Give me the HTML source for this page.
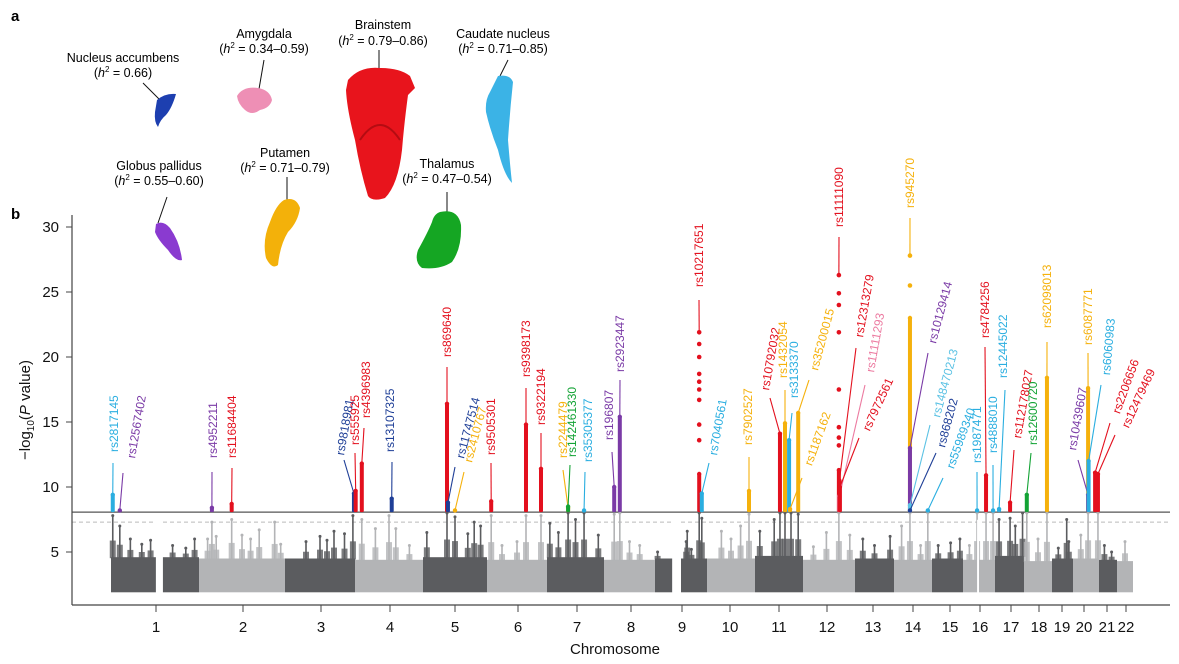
<!DOCTYPE html>
<html><head><meta charset="utf-8">
<style>
html,body{margin:0;padding:0;background:#fff;}
svg{display:block;font-family:"Liberation Sans",Arial,sans-serif;}
</style></head>
<body>
<svg id="fig" width="1179" height="664" viewBox="0 0 1179 664" xmlns="http://www.w3.org/2000/svg">
  <g id="panelA">
    <text x="11" y="21" font-size="15" font-weight="bold">a</text>

    <g>
      <text x="123" y="62" font-size="12.5" text-anchor="middle">Nucleus accumbens</text>
      <text x="123" y="77" font-size="12.5" text-anchor="middle">(<tspan font-style="italic">h</tspan><tspan font-size="8" dy="-5">2</tspan><tspan dy="5"> = 0.66)</tspan></text>
      <line x1="143" y1="83" x2="160" y2="100" stroke="#111" stroke-width="1"/>
      <path d="M157 100 Q165 93 176 94 Q172 108 166 115 Q160 120 158 127 Q154 122 155 112 Z" fill="#1d3fb0"/>
    </g>
    <g>
      <text x="264" y="38" font-size="12.5" text-anchor="middle">Amygdala</text>
      <text x="264" y="53" font-size="12.5" text-anchor="middle">(<tspan font-style="italic">h</tspan><tspan font-size="8" dy="-5">2</tspan><tspan dy="5"> = 0.34–0.59)</tspan></text>
      <line x1="264" y1="60" x2="259" y2="89" stroke="#111" stroke-width="1"/>
      <path d="M237 96 Q243 86 258 88 Q270 90 272 100 Q270 108 260 110 Q252 116 245 110 Q238 104 237 96 Z" fill="#ee8fb5"/>
    </g>
    <g>
      <text x="383" y="29" font-size="12.5" text-anchor="middle">Brainstem</text>
      <text x="383" y="45" font-size="12.5" text-anchor="middle">(<tspan font-style="italic">h</tspan><tspan font-size="8" dy="-5">2</tspan><tspan dy="5"> = 0.79–0.86)</tspan></text>
      <line x1="379" y1="50" x2="379" y2="70" stroke="#111" stroke-width="1"/>
      <path d="M348 80 Q360 66 380 68 Q400 68 410 76 L415 88 L408 95 Q404 125 402 150 Q398 185 385 198 Q372 202 368 196 Q360 170 355 140 Q347 110 346 90 Z" fill="#e8141c"/>
      <path d="M360 140 Q380 110 400 140" fill="none" stroke="#b40c12" stroke-width="2"/>
    </g>
    <g>
      <text x="503" y="38" font-size="12.5" text-anchor="middle">Caudate nucleus</text>
      <text x="503" y="53" font-size="12.5" text-anchor="middle">(<tspan font-style="italic">h</tspan><tspan font-size="8" dy="-5">2</tspan><tspan dy="5"> = 0.71–0.85)</tspan></text>
      <line x1="508" y1="60" x2="500" y2="76" stroke="#111" stroke-width="1"/>
      <path d="M498 76 Q510 74 513 82 Q510 110 508 140 Q510 165 512 183 Q504 175 498 150 Q490 130 486 112 Q485 100 490 92 Z" fill="#3bb3e6"/>
    </g>
    <g>
      <text x="159" y="170" font-size="12.5" text-anchor="middle">Globus pallidus</text>
      <text x="159" y="185" font-size="12.5" text-anchor="middle">(<tspan font-style="italic">h</tspan><tspan font-size="8" dy="-5">2</tspan><tspan dy="5"> = 0.55–0.60)</tspan></text>
      <line x1="167" y1="197" x2="158" y2="223" stroke="#111" stroke-width="1"/>
      <path d="M156 224 Q163 220 170 228 Q180 242 182 260 Q176 262 168 250 Q158 240 155 232 Z" fill="#8a3ad0"/>
    </g>
    <g>
      <text x="285" y="157" font-size="12.5" text-anchor="middle">Putamen</text>
      <text x="285" y="172" font-size="12.5" text-anchor="middle">(<tspan font-style="italic">h</tspan><tspan font-size="8" dy="-5">2</tspan><tspan dy="5"> = 0.71–0.79)</tspan></text>
      <line x1="287" y1="177" x2="287" y2="200" stroke="#111" stroke-width="1"/>
      <path d="M284 200 Q296 196 300 208 Q298 222 288 232 Q280 245 278 265 Q272 270 266 258 Q262 240 270 222 Q276 205 284 200 Z" fill="#f3b10a"/>
    </g>
    <g>
      <text x="447" y="168" font-size="12.5" text-anchor="middle">Thalamus</text>
      <text x="447" y="183" font-size="12.5" text-anchor="middle">(<tspan font-style="italic">h</tspan><tspan font-size="8" dy="-5">2</tspan><tspan dy="5"> = 0.47–0.54)</tspan></text>
      <line x1="447" y1="192" x2="447" y2="212" stroke="#111" stroke-width="1"/>
      <path d="M440 212 Q458 208 461 225 Q462 248 452 262 Q440 270 422 268 Q414 262 418 250 Q428 232 432 222 Q434 214 440 212 Z" fill="#15a623"/>
    </g>
  </g>

  <text x="11" y="219" font-size="15" font-weight="bold">b</text>
  <g id="chart"></g>
</svg>
<script>
// ---- data ----
const chromosomes = ["1","2","3","4","5","6","7","8","9","10","11","12","13","14","15","16","17","18","19","20","21","22"];
const chromLengths = [88,86,70,68,64,60,57,51,52,48,48,52,39,38,31,32,29,28,21,26,18,16];
const yTicks = [5,10,15,20,25,30];
const thresholdSolid = 8.07;
const thresholdDashed = 7.3;
const floorValue = 1.9;
const baseTop = [4.6,4.5,4.5,4.4,4.6,4.4,4.6,4.4,4.5,4.5,4.7,4.4,4.5,4.4,4.5,4.4,4.7,4.3,4.5,4.5,4.4,4.3];
// background peaks: [chromIndex, fractionWithinChrom, value]
const peakChrom = [0,0,0,0,0,0,0,0, 1,1,1,1,1,1,1,1,1, 2,2,2,2,2,2, 3,3,3,3,3, 4,4,4,4,4,4, 5,5,5,5,5, 6,6,6,6,6,6, 7,7,7,7, 8,8,8,8,8,8, 9,9,9,9, 10,10,10,10,10,10, 11,11,11,11, 12,12,12, 13,13,13,13, 14,14,14, 15,15,15,15, 16,16,16,16, 17,17,17, 18,18,18, 19,19,19, 20,20, 21];
const peakFrac  = [0.02,0.1,0.22,0.35,0.45,0.7,0.85,0.95, 0.1,0.15,0.2,0.38,0.5,0.6,0.7,0.88,0.95, 0.3,0.5,0.7,0.85,0.97,0.6, 0.1,0.3,0.5,0.6,0.8, 0.06,0.375,0.5,0.7,0.8,0.9, 0.07,0.25,0.5,0.65,0.9, 0.05,0.2,0.37,0.5,0.65,0.9, 0.2,0.31,0.5,0.7, 0.05,0.6,0.62,0.7,0.85,0.9, 0.3,0.5,0.7,0.875, 0.1,0.4,0.52,0.625,0.75,0.9, 0.2,0.45,0.69,0.9, 0.2,0.5,0.9, 0.2,0.42,0.89,0.7, 0.2,0.6,0.9, 0.2,0.44,0.72,0.94, 0.14,0.52,0.7,0.95, 0.1,0.5,0.82, 0.3,0.7,0.8, 0.3,0.58,0.96, 0.3,0.7, 0.5];
const peakValue = [7.8,7.0,6.0,5.6,5.9,5.5,5.3,6.0, 6.0,7.3,6.2,7.5,6.3,6.0,6.7,7.3,5.6, 5.8,6.2,6.6,6.4,7.8,5.9, 7.5,6.8,7.8,6.8,5.5, 6.5,8.0,7.7,6.4,7.3,7.0, 7.8,5.5,5.8,7.8,7.8, 7.2,6.5,8.0,7.5,8.0,6.3, 7.9,8.0,5.8,5.5, 5.0,5.8,6.6,5.2,8.0,7.6, 6.6,6.0,7.0,7.9, 6.6,7.5,8.0,8.0,8.0,7.9, 5.4,6.5,8.0,6.3, 6.0,5.5,6.2, 7.0,8.0,8.0,5.5, 5.5,5.7,6.0, 5.5,8.0,8.0,8.0, 7.5,7.6,7.0,8.0, 8.0,6.0,8.0, 5.3,7.5,5.8, 6.3,8.0,8.0, 5.5,5.0, 5.8];
// gaps (centromere/no data) [chromIndex, fracStart, fracEnd]
const gapChrom = [0,8,15];
const gapFrom = [0.51,0.33,0.44];
const gapTo = [0.59,0.5,0.5];

// significant hits
const hitNames = ["rs2817145","rs12567402","rs4952211","rs11684404","rs9818981","rs555925","rs4396983","rs13107325","rs869640","rs11747514","rs2410767","rs9505301","rs9398173","rs9322194","rs2244479","rs142461330","rs35305377","rs196807","rs2923447","rs10217651","rs7040561","rs7902527","rs10792032","rs1432054","rs3133370","rs1187162","rs35200015","rs11111090","rs12313279","rs11111293","rs7972561","rs945270","rs10129414","rs148470213","rs868202","rs55989340","rs1987471","rs4784256","rs4888010","rs12445022","rs112178027","rs12600720","rs62098013","rs6087771","rs10439607","rs6060983","rs2206656","rs12479469"];
const hitChrom = [0,0,1,1,2,3,3,3,4,4,4,5,5,5,6,6,6,7,7,8,8,9,10,10,10,10,10,11,11,11,11,13,13,13,13,13,15,15,15,16,16,17,17,19,19,19,19,19];
const hitFrac  = [0.02,0.1,0.15,0.38,0.985,0.01,0.1,0.54,0.375,0.39,0.5,0.07,0.65,0.9,0.37,0.37,0.65,0.2,0.31,0.85,0.9,0.875,0.52,0.625,0.71,0.73,0.9,0.69,0.7,0.7,0.71,0.42,0.42,0.42,0.42,0.89,0.44,0.72,0.94,0.14,0.52,0.1,0.82,0.58,0.58,0.6,0.85,0.96];
const hitValue = [9.4,8.2,8.4,8.7,9.5,9.7,11.8,9.1,16.4,8.8,8.2,8.9,14.8,11.4,8.4,8.5,8.2,10.0,15.4,21.9,9.5,9.7,14.1,14.9,13.6,8.3,15.7,26.3,10.5,9.3,10.0,27.8,13.0,8.6,8.2,8.2,8.2,10.9,8.2,8.3,8.8,9.4,18.4,17.6,9.4,12.0,11.1,11.0];
const hitDenseTop = [9.4,8.2,8.4,8.7,9.5,9.7,11.8,9.1,16.4,8.8,8.2,8.9,14.8,11.4,8.4,8.5,8.2,10.0,15.4,11.0,9.5,9.7,14.1,14.9,13.6,8.3,15.7,11.3,10.5,9.3,10.0,23.0,13.0,8.6,8.2,8.2,8.2,10.9,8.2,8.3,8.8,9.4,18.4,17.6,9.4,12.0,11.1,11.0];
const hitColor = ["#2aaee0","#7a3aa6","#7a3aa6","#e3101e","#1f3f97","#e3101e","#e3101e","#1f3f97","#e3101e","#1f3f97","#f5b10c","#e3101e","#e3101e","#e3101e","#f5b10c","#13a335","#2aaee0","#7a3aa6","#7a3aa6","#e3101e","#2aaee0","#f5b10c","#e3101e","#f5b10c","#2aaee0","#f5b10c","#f5b10c","#e3101e","#e3101e","#ec7aa0","#e3101e","#f5b10c","#7a3aa6","#5bc2e4","#1f3f97","#2aaee0","#2aaee0","#e3101e","#2aaee0","#2aaee0","#e3101e","#13a335","#f5b10c","#f5b10c","#7a3aa6","#2aaee0","#e3101e","#e3101e"];
// extra sparse dots above dense columns [hitIndex, value]
const extraHit = [19,19,19,19,19,19,19,19,19, 27,27,27,27,27,27,27,27, 31,31];
const extraVal = [13.6,14.8,16.7,17.5,18.1,18.7,20.0,21.0,21.9, 13.2,13.8,14.6,17.5,21.9,24.0,24.9,26.3, 25.5,27.8];

// x tick labels positions (layout only)
const xTickPx = [156,243,321,390,455,518,577,631,682,730,779,827,873,913,950,980,1011,1039,1062,1084,1107,1126];
// label layout: line end x,y ; text anchor x,y ; angle (layout only)
const labLX=[113,123,212,232,344,355,364,392,447,455,464,491,526,541,563,570,585,612,620,699,709,749,770,785,792,802,809,839,856,865,859,910,928,930,936,943,977,985,993,1005,1014,1031,1047,1088,1078,1101,1110,1115];
const labLY=[463,473,472,468,460,453,428,462,367,467,472,463,388,433,470,465,472,452,380,300,463,457,398,390,413,478,380,237,348,385,438,218,353,425,453,478,472,347,465,390,450,453,342,353,460,385,423,435];
const labTX=[114,131,213,232,340,355,366,390,447,460,468,491,526,541,563,572,588,609,620,699,713,748,765,783,794,808,814,839,859,870,866,910,932,936,941,950,977,985,993,1003,1017,1033,1047,1088,1072,1106,1116,1125];
const labTY=[452,458,458,458,455,445,418,452,357,458,462,455,377,425,458,457,462,440,372,287,455,445,390,378,398,465,370,227,337,372,430,208,343,417,447,468,463,338,453,378,438,445,328,345,450,375,413,427];
const labAng=[-90,-80,-90,-90,-80,-90,-90,-90,-90,-75,-75,-90,-90,-90,-90,-90,-90,-90,-90,-90,-80,-90,-80,-90,-90,-70,-75,-90,-80,-80,-65,-90,-75,-75,-75,-70,-90,-90,-90,-90,-80,-90,-90,-90,-80,-85,-70,-65];

// ---- scales ----
const NS="http://www.w3.org/2000/svg";
const chart=document.getElementById('chart');
const X0=111, Y0=617, YS=13, AXL=72, AXR=1170, AXB=605;
const chromStart=[]; {let c=0; for(const L of chromLengths){chromStart.push(c); c+=L;}}
function xPos(ci,f){return X0+chromStart[ci]+f*chromLengths[ci];}
function yPos(v){return Y0-YS*v;}
function el(tag,attrs,parent){const e=document.createElementNS(NS,tag);for(const k in attrs)e.setAttribute(k,attrs[k]);(parent||chart).appendChild(e);return e;}

// thresholds
const ts=el('line',{x1:AXL,x2:AXR,y1:yPos(thresholdSolid),y2:yPos(thresholdSolid),stroke:'#555',"stroke-width":1.2});


const td=el('line',{x1:AXL,x2:AXR,y1:yPos(thresholdDashed),y2:yPos(thresholdDashed),stroke:'#bbb',"stroke-width":1,"stroke-dasharray":"4 3"});



// background chromosomes
const bg=el('g',{});


chromosomes.forEach((c,i)=>{
  const col = i%2===0 ? '#5b5c5f' : '#b3b4b6';
  const g=el('g',{},bg);
  
  
  const xs=xPos(i,0), xe=xPos(i,1);
  el('rect',{x:xs,y:yPos(baseTop[i]),width:xe-xs,height:yPos(floorValue)-yPos(baseTop[i]),fill:col},g);
  for(let k=0;k<peakChrom.length;k++){
    if(peakChrom[k]!==i) continue;
    const px=xPos(i,peakFrac[k]);
    const v=peakValue[k];
    const mid=baseTop[i]+(v-baseTop[i])*0.4;
    el('rect',{x:px-0.8,y:yPos(v),width:1.6,height:yPos(baseTop[i])-yPos(v)+1,fill:col},g);
    el('rect',{x:px-3,y:yPos(mid),width:6,height:yPos(baseTop[i])-yPos(mid)+1,fill:col,opacity:0.8},g);
    el('circle',{cx:px,cy:yPos(v),r:1.5,fill:col},g);
  }
  for(let k=0;k<gapChrom.length;k++){
    if(gapChrom[k]!==i) continue;
    el('rect',{x:xPos(i,gapFrom[k]),y:yPos(baseTop[i])-40,width:xPos(i,gapTo[k])-xPos(i,gapFrom[k]),height:yPos(floorValue)-yPos(baseTop[i])+41,fill:'#fff'},g);
  }
});

// hits
hitNames.forEach((n,i)=>{
  const g=el('g',{});
  
  
  const x=xPos(hitChrom[i],hitFrac[i]);
  const c=hitColor[i];
  const yb=yPos(thresholdSolid), yt=yPos(hitDenseTop[i]);
  if(yb-yt>1) el('rect',{x:x-2,y:yt,width:4,height:yb-yt,fill:c,rx:1.5},g);
  el('circle',{cx:x,cy:yt,r:2.2,fill:c},g);
  const yTop=yPos(hitValue[i]);
  el('line',{x1:x,y1:yTop,x2:labLX[i],y2:labLY[i],stroke:c,"stroke-width":1.1},g);
  const t=el('text',{x:0,y:0,transform:`translate(${labTX[i]},${labTY[i]}) rotate(${labAng[i]})`,"font-size":12,fill:c,"dominant-baseline":"central"},g);
  t.textContent=n;
  
  
});
for(let k=0;k<extraHit.length;k++){
  const i=extraHit[k];
  const d=el('circle',{cx:xPos(hitChrom[i],hitFrac[i]),cy:yPos(extraVal[k]),r:2.3,fill:hitColor[i]});
  
  
}

// axes
const ax=el('g',{});


el('line',{x1:AXL,x2:AXL,y1:215,y2:AXB,stroke:'#444',"stroke-width":1.2},ax);
el('line',{x1:AXL,x2:AXR,y1:AXB,y2:AXB,stroke:'#444',"stroke-width":1.2},ax);
yTicks.forEach(v=>{
  el('line',{x1:66,x2:AXL,y1:yPos(v),y2:yPos(v),stroke:'#444'},ax);
  const t=el('text',{x:59,y:yPos(v)+5,"font-size":15,"text-anchor":"end",fill:'#111'},ax);
  t.textContent=v;
  
  
});
chromosomes.forEach((c,i)=>{
  el('line',{x1:xTickPx[i],x2:xTickPx[i],y1:AXB,y2:AXB+7,stroke:'#444'},ax);
  const t=el('text',{x:xTickPx[i],y:632,"font-size":15,"text-anchor":"middle",fill:'#111'},ax);
  t.textContent=c;
  
  
});
const xt=el('text',{x:615,y:654,"font-size":15,"text-anchor":"middle",fill:'#111'},ax);
xt.textContent='Chromosome';


const yt=el('text',{x:0,y:0,transform:'translate(30,410) rotate(-90)',"font-size":15,"text-anchor":"middle",fill:'#111'},ax);
yt.innerHTML='−log<tspan font-size="10" dy="4">10</tspan><tspan dy="-4">(</tspan><tspan font-style="italic">P</tspan> value)';


</script>
</body></html>
